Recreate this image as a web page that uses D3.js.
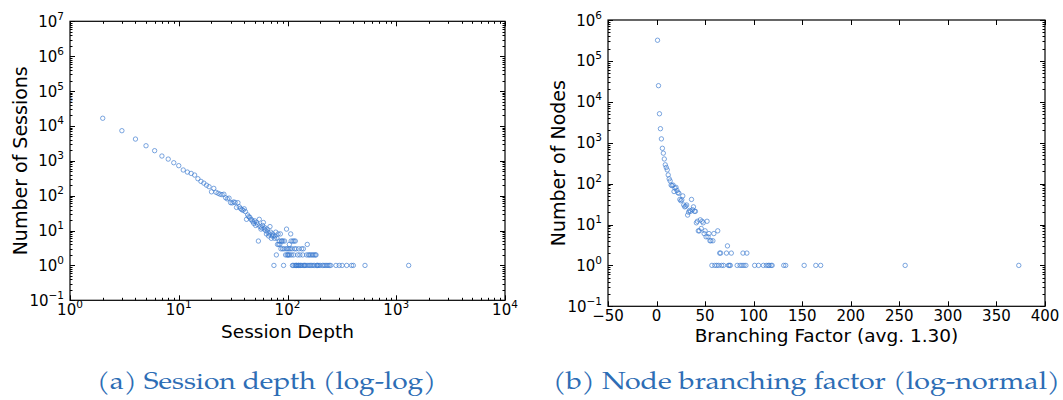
<!DOCTYPE html>
<html>
<head>
<meta charset="utf-8">
<script src="https://cdn.jsdelivr.net/npm/d3@7"></script>
<style>
  body { margin: 0; background: #fff; }
  svg text { font-family: "DejaVu Sans", sans-serif; fill: #000; }
  svg text.caption { font-family: "Palatino Linotype", Palatino, "TeX Gyre Pagella", "Liberation Serif", serif; fill: #2d6db5; }
</style>
</head>
<body>
<script>
// (a) session depth vs number of sessions
const sessionDepth = [1, 2, 3, 4, 5, 6, 7, 8, 9, 10, 11, 12, 13, 14, 15, 16, 17, 18, 19, 20,
  21, 22, 23, 24, 25, 26, 27, 28, 29, 30, 31, 32, 33, 34, 35, 36, 37, 38, 39, 40,
  41, 42, 43, 44, 45, 46, 47, 48, 49, 50, 51, 52, 53, 54, 55, 56, 57, 58, 59, 60,
  61, 62, 63, 64, 65, 66, 67, 68, 69, 70, 71, 72, 73, 74, 75, 76, 77, 78, 79, 80,
  81, 82, 83, 84, 85, 86, 87, 88, 89, 90, 91, 92, 93, 94, 96, 97, 98, 99, 100,
  101, 102, 103, 104, 105, 106, 107, 108, 109, 110, 111, 112, 113, 114, 115, 116, 117, 118, 119, 120,
  121, 122, 124, 125, 126, 127, 128, 130, 131, 133, 135, 136, 138, 140, 141, 143, 145, 148, 150,
  152, 154, 156, 158, 160, 162, 165, 167, 170, 172, 175, 177, 180, 183, 185, 188, 190, 195, 200,
  210, 216, 222, 230, 236, 243, 250, 279, 299, 318, 350, 388, 403, 516, 1301];
const sessionCount = [57000, 16600, 7300, 4200, 2700, 1950, 1370, 1120, 880, 725, 545, 475, 435, 390, 306, 257, 229, 200, 181, 129,
  162, 125, 117, 110, 107, 110, 87, 81, 85, 63, 62, 66, 64, 46, 63, 48, 43, 40, 38, 42,
  35, 21, 28, 25, 24, 21, 20, 18, 16, 19, 14, 17, 15, 5, 21, 13, 11, 12, 14, 17,
  11, 12, 10, 8, 11, 9, 7, 8, 13, 9, 6, 7, 8, 7, 1, 6, 7, 9, 2, 6,
  4, 8, 4, 5, 4, 8, 3, 5, 5, 3, 5, 1, 3, 5, 2, 3, 11, 2, 3,
  2, 2, 3, 4, 2, 3, 8, 5, 2, 3, 1, 5, 1, 2, 5, 3, 1, 5, 1, 3,
  1, 1, 2, 1, 1, 3, 1, 2, 1, 1, 3, 1, 2, 3, 1, 1, 1, 1, 2,
  4, 1, 2, 1, 2, 1, 2, 1, 2, 1, 2, 1, 2, 2, 1, 1, 1, 1, 1,
  1, 1, 1, 1, 1, 1, 1, 1, 1, 1, 1, 1, 1, 1, 1];

// (b) branching factor vs number of nodes
const branchFactor = [1, 2, 3, 4, 5, 6, 7, 8, 9, 10, 11, 12, 13, 14, 15, 16, 17, 18, 19, 20,
  21, 22, 23, 24, 25, 26, 27, 28, 29, 30, 31, 32, 33, 34, 35, 36, 37, 38, 39, 40,
  41, 42, 43, 44, 45, 46, 47, 48, 49, 50, 51, 52, 53, 54, 55, 56, 57, 58, 59, 60,
  62, 63, 64, 65, 66, 67, 69, 72, 73, 74, 75, 76, 77, 83, 86, 88, 89, 90, 92, 93,
  101, 105, 110, 113, 115, 116, 118, 119, 131, 133, 152, 164, 169, 256, 373];
const nodeCount = [320000, 24800, 5100, 2200, 1240, 730, 555, 400, 288, 248, 216, 163, 131, 116, 92, 89, 92, 64, 77, 81,
  68, 60, 58, 41, 38, 40, 50, 30, 27, 28, 30, 17, 20, 22, 21, 41, 23, 27, 21, 21,
  11, 12, 7, 7, 13, 8, 12, 11, 6, 7, 5, 12, 5, 6, 4, 4, 1, 4, 6, 1,
  1, 7, 1, 2, 2, 1, 1, 2, 3, 1, 1, 1, 2, 1, 1, 1, 2, 1, 1, 2,
  1, 1, 1, 1, 1, 1, 1, 1, 1, 1, 1, 1, 1, 1, 1];

const depthTicks = [1, 10, 100, 1000, 10000];
const sessionTicks = [0.1, 1, 10, 100, 1000, 10000, 100000, 1000000, 10000000];
const branchTicks = [-50, 0, 50, 100, 150, 200, 250, 300, 350, 400];
const nodeTicks = [0.1, 1, 10, 100, 1000, 10000, 100000, 1000000];

const svg = d3.select('body').append('svg')
  .attr('width', 1063)
  .attr('height', 400);

const majorLen = 5;
const minorLen = 2.5;

function powLabel(sel, v) {
  const e = Math.round(Math.log10(v));
  sel.append('tspan').text('10');
  sel.append('tspan')
    .attr('dy', -7)
    .attr('font-size', 10.5)
    .text(e < 0 ? '\u2212' + (-e) : e);
}

function logMinors(ticks) {
  const out = [];
  ticks.slice(0, -1).forEach((t) => {
    for (let k = 2; k < 10; k++) out.push(t * k);
  });
  return out;
}

function drawPanel(p) {
  const g = svg.append('g').attr('class', p.id);
  const x = p.x, y = p.y;
  const [x0, x1] = x.range();
  const [y1, y0] = y.range();

  g.append('clipPath').attr('id', 'clip-' + p.id)
    .append('rect')
    .attr('x', x0).attr('y', y0)
    .attr('width', x1 - x0).attr('height', y1 - y0);

  // points
  g.append('g')
    .attr('clip-path', 'url(#clip-' + p.id + ')')
    .selectAll('circle')
    .data(p.xs.map((d, i) => [d, p.ys[i]]))
    .enter()
    .append('circle')
    .attr('cx', (d) => x(d[0]))
    .attr('cy', (d) => y(d[1]))
    .attr('r', 2.2)
    .attr('fill', 'none')
    .attr('stroke', '#3b7bd0')
    .attr('stroke-opacity', 0.75)
    .attr('stroke-width', 0.9);

  // ticks on all four sides, pointing inwards
  const tickG = g.append('g').attr('stroke', '#000').attr('stroke-width', 1);
  const xt = p.xTicks.map((v) => [v, majorLen]).concat((p.xMinor || []).map((v) => [v, minorLen]));
  const yt = p.yTicks.map((v) => [v, majorLen]).concat((p.yMinor || []).map((v) => [v, minorLen]));
  xt.forEach(([v, l]) => {
    const px = Math.round(x(v)) + 0.5;
    tickG.append('line').attr('x1', px).attr('x2', px).attr('y1', y1).attr('y2', y1 - l);
    tickG.append('line').attr('x1', px).attr('x2', px).attr('y1', y0).attr('y2', y0 + l);
  });
  yt.forEach(([v, l]) => {
    const py = Math.round(y(v)) + 0.5;
    tickG.append('line').attr('x1', x0).attr('x2', x0 + l).attr('y1', py).attr('y2', py);
    tickG.append('line').attr('x1', x1).attr('x2', x1 - l).attr('y1', py).attr('y2', py);
  });

  g.append('rect')
    .attr('x', x0).attr('y', y0)
    .attr('width', x1 - x0).attr('height', y1 - y0)
    .attr('fill', 'none')
    .attr('stroke', '#000')
    .attr('stroke-width', 1.2);

  // tick labels
  g.append('g')
    .selectAll('text')
    .data(p.xTicks)
    .enter()
    .append('text')
    .attr('x', (d) => x(d))
    .attr('y', y1 + 15)
    .attr('font-size', 15)
    .attr('text-anchor', 'middle')
    .each(function (d) {
      if (p.xLog) powLabel(d3.select(this), d);
      else d3.select(this).text(d < 0 ? '\u2212' + (-d) : d);
    });

  g.append('g')
    .selectAll('text')
    .data(p.yTicks)
    .enter()
    .append('text')
    .attr('x', x0 - 6)
    .attr('y', (d) => y(d) + 5.5)
    .attr('font-size', 15)
    .attr('text-anchor', 'end')
    .each(function (d) { powLabel(d3.select(this), d); });

  // axis titles
  g.append('text')
    .attr('x', (x0 + x1) / 2)
    .attr('y', p.xTitleY)
    .attr('font-size', 18.5)
    .attr('text-anchor', 'middle')
    .text(p.xTitle);
  g.append('text')
    .attr('transform', 'translate(' + p.yTitleX + ',' + (y0 + y1) / 2 + ') rotate(-90)')
    .attr('font-size', 19)
    .attr('text-anchor', 'middle')
    .text(p.yTitle);

  // caption below the panel
  g.append('text')
    .attr('class', 'caption')
    .attr('x', p.capX)
    .attr('y', 389)
    .attr('font-size', 24)
    .attr('text-anchor', 'middle')
    .attr('textLength', p.capW)
    .attr('lengthAdjust', 'spacingAndGlyphs')
    .text(p.caption);
}

drawPanel({
  id: 'depth',
  x: d3.scaleLog().domain([1, 10000]).range([70, 505]),
  y: d3.scaleLog().domain([0.1, 1e7]).range([300.3, 21.3]),
  xs: sessionDepth,
  ys: sessionCount,
  xLog: true,
  xTicks: depthTicks,
  xMinor: logMinors(depthTicks),
  yTicks: sessionTicks,
  yMinor: logMinors(sessionTicks),
  xTitle: 'Session Depth',
  xTitleY: 338,
  yTitle: 'Number of Sessions',
  yTitleX: 27,
  caption: '(a) Session depth (log-log)',
  capX: 266.5,
  capW: 339
});

drawPanel({
  id: 'branch',
  x: d3.scaleLinear().domain([-50, 400]).range([608, 1045]),
  y: d3.scaleLog().domain([0.1, 1e6]).range([306.3, 20]),
  xs: branchFactor,
  ys: nodeCount,
  xLog: false,
  xTicks: branchTicks,
  xMinor: [],
  yTicks: nodeTicks,
  yMinor: logMinors(nodeTicks),
  xTitle: 'Branching Factor (avg. 1.30)',
  xTitleY: 342,
  yTitle: 'Number of Nodes',
  yTitleX: 565,
  caption: '(b) Node branching factor (log-normal)',
  capX: 806.5,
  capW: 507
});
</script>
</body>
</html>
